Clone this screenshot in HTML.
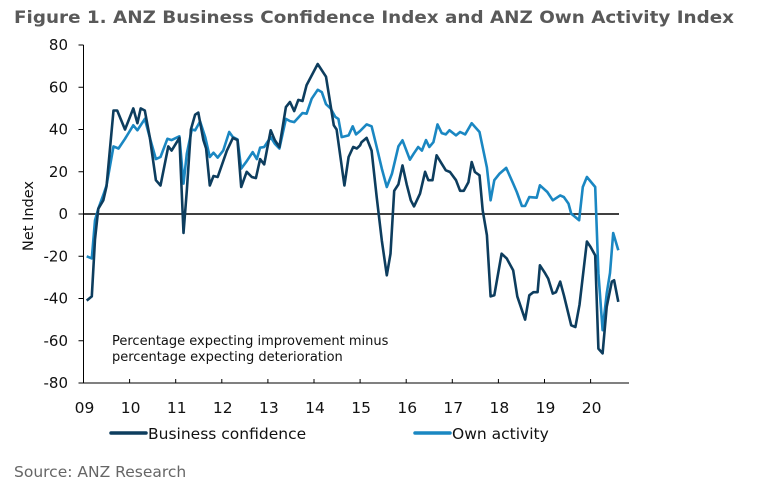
<!DOCTYPE html>
<html><head><meta charset="utf-8"><style>
html,body{margin:0;padding:0;background:#fff;}
svg{display:block;font-family:"DejaVu Sans","Liberation Sans",sans-serif;}
</style></head><body>
<svg id="chart" width="763" height="489" viewBox="0 0 763 489" xmlns="http://www.w3.org/2000/svg">
<text x="14" y="23" font-size="16.5" font-weight="bold" fill="#595959" textLength="720" lengthAdjust="spacingAndGlyphs">Figure 1. ANZ Business Confidence Index and ANZ Own Activity Index</text>
<g id="axes"></g>
<g id="series"></g>
<text x="112" y="345" font-size="13" fill="#111">Percentage expecting improvement minus</text>
<text x="112" y="361" font-size="13" fill="#111">percentage expecting deterioration</text>
<text transform="translate(33,216) rotate(-90)" text-anchor="middle" font-size="14.5" fill="#111">Net Index</text>
<g>
<line x1="111" y1="433" x2="146" y2="433" stroke="#0d3d5e" stroke-width="3.5" stroke-linecap="round"/>
<text x="148" y="439" font-size="15.5" fill="#111">Business confidence</text>
<line x1="415" y1="433" x2="450" y2="433" stroke="#1a87c2" stroke-width="3.5" stroke-linecap="round"/>
<text x="452" y="439" font-size="15.5" fill="#111">Own activity</text>
</g>
<text x="14" y="477" font-size="15.5" fill="#666">Source: ANZ Research</text>
</svg>
<script>
const yTicks = [80, 60, 40, 20, 0, -20, -40, -60, -80];
const xTickYears = [2009, 2010, 2011, 2012, 2013, 2014, 2015, 2016, 2017, 2018, 2019, 2020];
const xTickLabels = ["09","10","11","12","13","14","15","16","17","18","19","20"];

const bizDates = [2009.07,2009.18,2009.25,2009.32,2009.43,2009.50,2009.65,2009.73,2009.90,2010.08,2010.17,2010.24,2010.33,2010.44,2010.57,2010.67,2010.84,2010.91,2011.08,2011.17,2011.24,2011.33,2011.42,2011.49,2011.60,2011.66,2011.74,2011.82,2011.91,2012.11,2012.24,2012.34,2012.42,2012.54,2012.65,2012.74,2012.83,2012.92,2013.06,2013.15,2013.25,2013.39,2013.48,2013.57,2013.66,2013.75,2013.84,2014.08,2014.26,2014.43,2014.49,2014.66,2014.75,2014.85,2014.93,2015.00,2015.03,2015.14,2015.25,2015.36,2015.47,2015.58,2015.66,2015.74,2015.83,2015.92,2016.01,2016.10,2016.17,2016.30,2016.41,2016.48,2016.57,2016.66,2016.77,2016.86,2016.95,2017.08,2017.17,2017.25,2017.35,2017.42,2017.49,2017.59,2017.66,2017.75,2017.83,2017.91,2018.07,2018.18,2018.32,2018.41,2018.58,2018.67,2018.76,2018.85,2018.90,2019.01,2019.08,2019.18,2019.25,2019.34,2019.42,2019.58,2019.67,2019.76,2019.92,2020.00,2020.10,2020.17,2020.26,2020.35,2020.46,2020.51,2020.60];
const bizValues = [-41,-39,-12,2.5,6.5,13,49,49,40,50,43,50,49,36,16,13.5,32,30,36,-9,11,40,47,48,35,31,13.5,18,17.5,30,36,35,12.8,20,17.5,17,26,23.5,39.6,35,31.7,50.6,53,48.7,54,53.5,61,71,65,42,40,13.5,27,31.7,31,32.5,34,36,30,8,-12.5,-29,-18.8,11,14,23,14,6.5,3.6,9.6,20,16,16,27.8,23.8,20.7,19.9,16,11,11,15,24.6,19.9,18.3,1.7,-10,-39,-38.5,-18.8,-21,-26.7,-39,-50,-38.5,-37,-37,-24.3,-28,-30.6,-37.7,-37,-32,-38.5,-52.7,-53.5,-43,-13,-15.6,-19.6,-63.7,-66,-44,-32,-31.4,-41.6];

const ownDates = [2009.07,2009.18,2009.25,2009.32,2009.43,2009.50,2009.65,2009.76,2009.90,2010.08,2010.17,2010.33,2010.44,2010.57,2010.67,2010.82,2010.91,2011.08,2011.17,2011.24,2011.35,2011.42,2011.53,2011.64,2011.74,2011.82,2011.91,2012.03,2012.16,2012.24,2012.34,2012.42,2012.54,2012.67,2012.76,2012.83,2012.92,2013.06,2013.15,2013.25,2013.39,2013.48,2013.57,2013.75,2013.84,2013.95,2014.08,2014.17,2014.26,2014.36,2014.46,2014.53,2014.60,2014.75,2014.84,2014.91,2015.00,2015.14,2015.25,2015.36,2015.47,2015.58,2015.69,2015.83,2015.92,2016.08,2016.16,2016.26,2016.34,2016.43,2016.50,2016.59,2016.68,2016.77,2016.86,2016.94,2017.08,2017.17,2017.28,2017.42,2017.59,2017.75,2017.83,2017.91,2018.02,2018.17,2018.32,2018.40,2018.51,2018.58,2018.67,2018.83,2018.90,2019.06,2019.18,2019.34,2019.42,2019.52,2019.58,2019.75,2019.83,2019.92,2020.10,2020.17,2020.26,2020.35,2020.42,2020.49,2020.60];
const ownValues = [-20,-21,-3,2.5,9,13.5,32,31,35.6,42,39.6,45,36,26,27,35.6,35,36.8,14.4,28.5,40,39.6,43.8,36.4,27,29,26.7,30,38.8,36.4,35.3,21.5,25,29.3,26,31.4,31.7,36.4,33.3,31,45,44,43.5,47.8,47.5,54.6,58.8,57.7,52,50,46,45,36.4,37.2,41.5,37.7,39.3,42.4,41.5,31.7,21.5,12.8,19,32,34.9,25.7,28.5,31.7,30,35,31.7,34,42.4,38.3,37.7,39.6,37.2,38.8,37.7,43,38.8,22,6.5,16,19,21.8,14.4,10.4,3.8,3.8,8,7.7,13.6,10.4,6.5,8.8,8,4.9,0.2,-3,12.8,17.5,12.8,-28,-55,-37.7,-28,-9,-17.2];

const NS = "http://www.w3.org/2000/svg";
const X0 = 83.5, YEARPX = 46.1, Y0 = 214, UNIT = 2.1125;
function xScale(yr){ return X0 + (yr - 2009) * YEARPX; }
function yScale(v){ return Y0 - v * UNIT; }
function mk(tag, attrs){ const e = document.createElementNS(NS, tag); for (const k in attrs) e.setAttribute(k, attrs[k]); return e; }

const axes = document.getElementById('axes');
const yAxis = mk('line', {x1:X0, y1:yScale(80), x2:X0, y2:yScale(-80), stroke:'#000', 'stroke-width':1});


axes.appendChild(yAxis);
const xAxis = mk('line', {x1:X0, y1:yScale(-80), x2:629, y2:yScale(-80), stroke:'#000', 'stroke-width':1});


axes.appendChild(xAxis);
const zero = mk('line', {x1:X0, y1:yScale(0), x2:619, y2:yScale(0), stroke:'#000', 'stroke-width':1.5});


axes.appendChild(zero);

yTicks.forEach(v => {
  const t = mk('line', {x1:X0-5, y1:yScale(v), x2:X0, y2:yScale(v), stroke:'#000'});
  
  
  axes.appendChild(t);
  const l = mk('text', {x:68, y:yScale(v)+5, 'text-anchor':'end', 'font-size':15, fill:'#111'});
  l.textContent = v;
  
  
  axes.appendChild(l);
});
xTickYears.forEach((yr, i) => {
  const x = xScale(yr);
  const t = mk('line', {x1:x, y1:yScale(-80)-4, x2:x, y2:yScale(-80), stroke:'#000'});
  
  
  axes.appendChild(t);
  const l = mk('text', {x:x+1, y:413, 'text-anchor':'middle', 'font-size':15.5, fill:'#111'});
  l.textContent = xTickLabels[i];
  
  
  axes.appendChild(l);
});

const series = document.getElementById('series');
function drawLine(dates, vals, color, name){
  const d = dates.map((t, i) => (i ? 'L' : 'M') + xScale(t).toFixed(1) + ',' + yScale(vals[i]).toFixed(1)).join(' ');
  const p = mk('path', {d:d, fill:'none', stroke:color, 'stroke-width':2.6, 'stroke-linejoin':'round'});
  
  
  series.appendChild(p);
}
drawLine(ownDates, ownValues, '#1a87c2', 'own-activity-line');
drawLine(bizDates, bizValues, '#0d3d5e', 'business-confidence-line');
</script>
</body></html>
